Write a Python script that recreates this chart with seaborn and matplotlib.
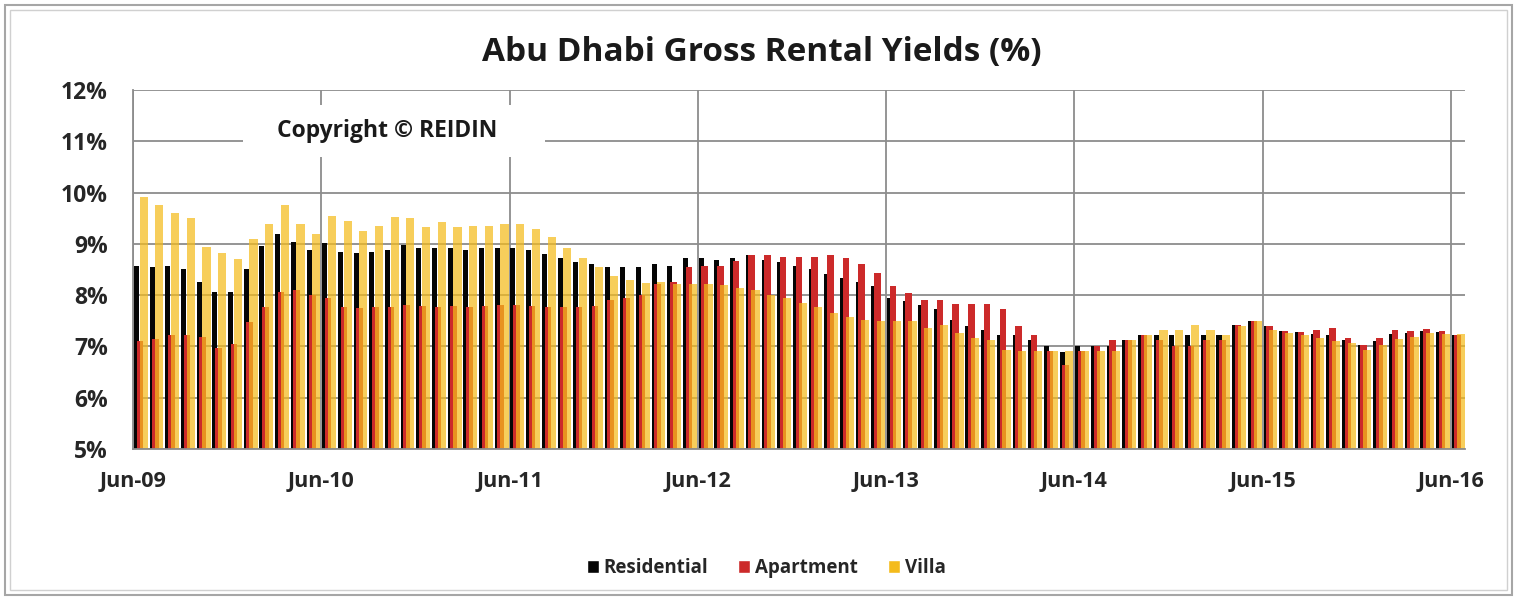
import matplotlib
matplotlib.use("Agg")
import matplotlib.pyplot as plt
import matplotlib.patches as mpatches
import seaborn as sns
import pandas as pd

# monthly gross rental yields (%), Jun-09 .. Jun-16
months = pd.date_range("2009-06-01", "2016-06-01", freq="MS").strftime("%b-%y").tolist()

residential = [
    8.57, 8.55, 8.57, 8.51, 8.26, 8.07, 8.07, 8.51, 8.95, 9.19, 9.04, 8.88,
    9.01, 8.85, 8.82, 8.85, 8.88, 8.98, 8.92, 8.92, 8.92, 8.88, 8.92, 8.92,
    8.92, 8.88, 8.80, 8.73, 8.64, 8.60, 8.54, 8.54, 8.54, 8.60, 8.57, 8.72,
    8.72, 8.69, 8.72, 8.79, 8.69, 8.64, 8.57, 8.51, 8.41, 8.34, 8.26, 8.17,
    7.94, 7.88, 7.81, 7.73, 7.52, 7.40, 7.32, 7.23, 7.23, 7.13, 7.00, 6.90,
    7.00, 7.00, 7.00, 7.13, 7.23, 7.23, 7.23, 7.23, 7.23, 7.23, 7.41, 7.50,
    7.40, 7.31, 7.28, 7.25, 7.22, 7.13, 7.02, 7.10, 7.25, 7.26, 7.31, 7.28,
    7.23,
]
apartment = [
    7.11, 7.14, 7.23, 7.23, 7.18, 6.96, 7.05, 7.47, 7.76, 8.06, 8.10, 8.01,
    7.94, 7.76, 7.74, 7.76, 7.76, 7.81, 7.78, 7.76, 7.79, 7.76, 7.79, 7.81,
    7.81, 7.79, 7.76, 7.76, 7.76, 7.78, 7.91, 7.94, 8.01, 8.21, 8.26, 8.54,
    8.57, 8.57, 8.66, 8.79, 8.79, 8.75, 8.75, 8.75, 8.79, 8.72, 8.60, 8.44,
    8.17, 8.04, 7.91, 7.91, 7.82, 7.82, 7.82, 7.73, 7.40, 7.23, 6.92, 6.64,
    6.92, 7.00, 7.13, 7.13, 7.23, 7.13, 7.00, 7.00, 7.13, 7.13, 7.42, 7.49,
    7.40, 7.31, 7.28, 7.32, 7.36, 7.16, 7.03, 7.16, 7.32, 7.31, 7.34, 7.30,
    7.23,
]
villa = [
    9.91, 9.75, 9.61, 9.51, 8.94, 8.82, 8.70, 9.10, 9.38, 9.75, 9.38, 9.19,
    9.55, 9.44, 9.25, 9.35, 9.53, 9.51, 9.32, 9.42, 9.32, 9.35, 9.35, 9.38,
    9.38, 9.29, 9.13, 8.92, 8.73, 8.54, 8.38, 8.29, 8.23, 8.26, 8.22, 8.22,
    8.22, 8.19, 8.14, 8.10, 8.01, 7.94, 7.84, 7.76, 7.65, 7.57, 7.52, 7.49,
    7.49, 7.49, 7.36, 7.42, 7.26, 7.16, 7.13, 6.94, 6.92, 6.92, 6.92, 6.92,
    6.92, 6.92, 6.92, 7.13, 7.23, 7.32, 7.32, 7.42, 7.32, 7.23, 7.40, 7.50,
    7.32, 7.26, 7.23, 7.16, 7.10, 7.06, 6.94, 7.03, 7.14, 7.19, 7.26, 7.25,
    7.25,
]

series = ["Residential", "Apartment", "Villa"]
colors = {"Residential": "#050505", "Apartment": "#cc2a2a", "Villa": "#f4bb1c"}
tick_labels = ["Jun-09", "Jun-10", "Jun-11", "Jun-12", "Jun-13", "Jun-14", "Jun-15", "Jun-16"]
y_ticks = [5, 6, 7, 8, 9, 10, 11, 12]

df = pd.DataFrame({"month": months, "Residential": residential,
                   "Apartment": apartment, "Villa": villa})
df = df.melt(id_vars="month", var_name="series", value_name="yield")

sns.set_theme(style="white")
plt.rcParams["font.family"] = ["Open Sans", "DejaVu Sans"]

W, H = 1517, 600
fig = plt.figure(figsize=(W / 100, H / 100), dpi=100)
ax = fig.add_axes([133 / W, 1 - 449 / H, (1465 - 133) / W, (449 - 90) / H])

DODGE = 0.78
sns.barplot(data=df, x="month", y="yield", hue="series", hue_order=series,
            palette=colors, saturation=1, width=DODGE, dodge=True,
            legend=False, ax=ax, zorder=2)

# Excel-style overlapping columns: (left edge, width) inside each month slot,
# villa see-through on top so the apartment shows orange underneath
slot = {"Residential": (-0.44, 0.32), "Apartment": (-0.27, 0.42), "Villa": (-0.08, 0.52)}
step = DODGE / len(series)
assert len(ax.containers) == 3, len(ax.containers)
for k, (cont, name) in enumerate(zip(ax.containers, series)):
    left, w = slot[name]
    for p in cont.patches:
        centre = p.get_x() + p.get_width() / 2 - (k - 1) * step
        p.set_x(centre + left)
        p.set_width(w)
        p.set_linewidth(0)
        if name == "Villa":
            p.set_alpha(0.72)

ax.set_ylim(5, 12)
ax.set_xlim(-0.5, 84.4)
ax.set_yticks(y_ticks)
ax.set_yticklabels([f"{v}%" for v in y_ticks], fontsize=16.5, fontweight="bold")
tick_pos = [months.index(t) - 0.5 for t in tick_labels]
ax.set_xticks(tick_pos)
ax.set_xticklabels(tick_labels, fontsize=15.5, fontweight="bold")
ax.set_xlabel("")
ax.set_ylabel("")

ax.set_axisbelow(True)
ax.grid(True, color="#8c8c8c", linewidth=1.3)
for s in ["top", "right"]:
    ax.spines[s].set_visible(False)
for s in ["left", "bottom"]:
    ax.spines[s].set_color("#8c8c8c")
    ax.spines[s].set_linewidth(1.3)
ax.tick_params(axis="y", length=7, color="#8c8c8c", width=1.3, pad=11)
ax.tick_params(axis="x", length=0, pad=16)

# copyright watermark box
ax.add_patch(mpatches.Rectangle((110 / 1332, 292 / 359), 302 / 1332, 52 / 359,
                                transform=ax.transAxes, facecolor="white",
                                edgecolor="none", zorder=1.5))
ax.text(0.191, 0.886, "Copyright © REIDIN", transform=ax.transAxes,
        ha="center", va="center", fontsize=16.5, fontweight="bold",
        color="#1a1a1a", zorder=3)

fig.suptitle("Abu Dhabi Gross Rental Yields (%)", x=0.502, y=1 - 52 / H,
             va="center", fontsize=24, fontweight="bold", color="#1a1a1a")

handles = [mpatches.Patch(facecolor=colors[s], label=s) for s in series]
fig.legend(handles=handles, loc="center", bbox_to_anchor=(0.505, 1 - 568 / H),
           ncol=3, frameon=False, handlelength=0.65, handleheight=0.65,
           handletextpad=0.25, columnspacing=1.6,
           prop={"size": 13.5, "weight": "bold"})

# chart frame
fig.patches.append(mpatches.Rectangle((5 / W, 5 / H), 1507 / W, 590 / H,
                                      transform=fig.transFigure, fill=False,
                                      edgecolor="#a6a6a6", linewidth=1.5))
fig.patches.append(mpatches.Rectangle((10 / W, 10 / H), 1497 / W, 580 / H,
                                      transform=fig.transFigure, fill=False,
                                      edgecolor="#d0d0d0", linewidth=1.0))

fig.savefig("out.png", dpi=100)
